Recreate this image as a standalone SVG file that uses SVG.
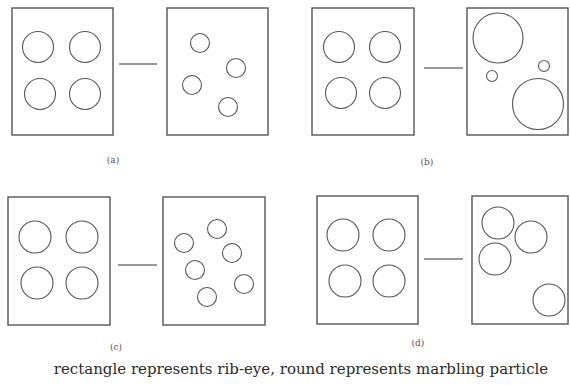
<svg xmlns="http://www.w3.org/2000/svg" width="570" height="385" viewBox="0 0 570 385">
<style>
.box{fill:none;stroke:#555;stroke-width:1.4}
.c{fill:none;stroke:#555;stroke-width:1.1}
.link{stroke:#777;stroke-width:1.5}
.lab{font-family:"DejaVu Serif","Liberation Serif",serif;font-size:9px;fill:#5a4a6a;text-anchor:middle}
.cap{font-family:"DejaVu Serif","Liberation Serif",serif;font-size:15px;fill:#2a2a2a;text-anchor:middle}
</style>
<rect width="570" height="385" fill="#fff"/>
<g id="a-left"><rect class="box" x="12" y="8" width="101" height="127"/>
<circle class="c" cx="38" cy="47" r="15.5"/><circle class="c" cx="85" cy="47" r="15.5"/><circle class="c" cx="40" cy="94" r="15.5"/><circle class="c" cx="85" cy="94" r="15.5"/></g>
<g id="a-right"><rect class="box" x="167" y="8" width="101" height="127"/>
<circle class="c" cx="200" cy="43" r="9.5"/><circle class="c" cx="236" cy="68" r="9.5"/><circle class="c" cx="192" cy="85" r="9.5"/><circle class="c" cx="228" cy="107" r="9.5"/></g>
<g id="b-left"><rect class="box" x="312" y="8" width="102" height="127"/>
<circle class="c" cx="339" cy="47" r="15.5"/><circle class="c" cx="385" cy="47" r="15.5"/><circle class="c" cx="341" cy="93" r="15.5"/><circle class="c" cx="385" cy="93" r="15.5"/></g>
<g id="b-right"><rect class="box" x="467" y="8" width="101" height="127"/>
<circle class="c" cx="498" cy="38" r="25"/><circle class="c" cx="492" cy="76" r="5.5"/><circle class="c" cx="544" cy="66" r="5.5"/><circle class="c" cx="538" cy="104" r="25.5"/></g>
<g id="c-left"><rect class="box" x="8" y="197" width="102" height="128"/>
<circle class="c" cx="35" cy="237" r="16"/><circle class="c" cx="82" cy="237" r="16"/><circle class="c" cx="37" cy="283" r="16"/><circle class="c" cx="82" cy="283" r="16"/></g>
<g id="c-right"><rect class="box" x="163" y="197" width="102" height="128"/>
<circle class="c" cx="217" cy="229" r="9.5"/><circle class="c" cx="184" cy="243" r="9.5"/><circle class="c" cx="232" cy="253" r="9.5"/><circle class="c" cx="195" cy="270" r="9.5"/><circle class="c" cx="244" cy="284" r="9.5"/><circle class="c" cx="207" cy="297" r="9.5"/></g>
<g id="d-left"><rect class="box" x="317" y="196" width="101" height="128"/>
<circle class="c" cx="343" cy="235" r="16"/><circle class="c" cx="389" cy="235" r="16"/><circle class="c" cx="345" cy="281" r="16"/><circle class="c" cx="389" cy="281" r="16"/></g>
<g id="d-right"><rect class="box" x="472" y="196" width="96" height="128"/>
<circle class="c" cx="498" cy="223" r="16"/><circle class="c" cx="531" cy="237" r="16"/><circle class="c" cx="495" cy="259" r="16"/><circle class="c" cx="549" cy="300" r="16"/></g>
<g id="connectors">
<line class="link" x1="119" y1="64" x2="157" y2="64"/>
<line class="link" x1="424" y1="68" x2="463" y2="68"/>
<line class="link" x1="118" y1="265" x2="157" y2="265"/>
<line class="link" x1="424" y1="259" x2="463" y2="259"/>
</g>
<g id="labels">
<text class="lab" x="113" y="163">(a)</text>
<text class="lab" x="427" y="165">(b)</text>
<text class="lab" x="116" y="350">(c)</text>
<text class="lab" x="418" y="346">(d)</text>
<text class="cap" x="301" y="374">rectangle represents rib-eye, round represents marbling particle</text>
</g>
</svg>
